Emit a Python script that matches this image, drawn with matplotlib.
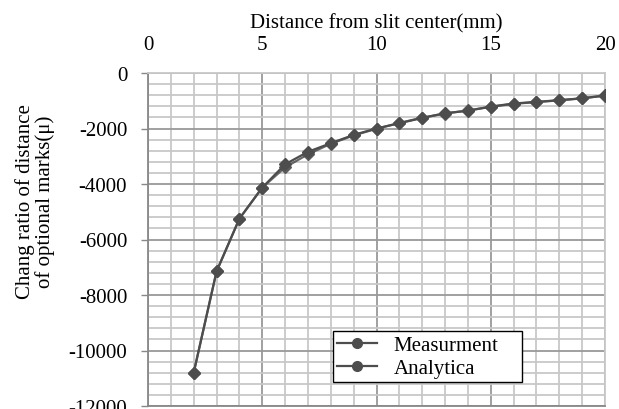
import matplotlib
matplotlib.use("Agg")
import matplotlib.pyplot as plt
from matplotlib.lines import Line2D
from matplotlib.ticker import MultipleLocator

plt.rcParams["font.family"] = ["Liberation Serif", "DejaVu Serif"]
plt.rcParams["axes.unicode_minus"] = False

# distance from slit center (mm)
dist = [2, 3, 4, 5, 6, 7, 8, 9, 10, 11, 12, 13, 14, 15, 16, 17, 18, 19, 20]
measurement = [-10800, -7150, -5250, -4130, -3290, -2840, -2530, -2230, -2000, -1810,
               -1620, -1450, -1360, -1210, -1100, -1040, -980, -910, -810]
analytical = [-10800, -7150, -5250, -4130, -3400, -2930, -2550, -2250, -2010, -1800,
              -1610, -1460, -1350, -1220, -1110, -1050, -985, -915, -815]
series_names = ["Measurment", "Analytica"]

fig = plt.figure(figsize=(6.19, 4.10), dpi=100)
ax = fig.add_axes([148 / 619, 1 - 407 / 410, 457 / 619, 333 / 410])

line_col = "#4d4d4d"
ax.plot(dist, measurement, color=line_col, lw=1.6, marker="D", ms=6.5, zorder=3)
ax.plot(dist, analytical, color=line_col, lw=1.6, marker="D", ms=6.5, alpha=0.85, zorder=3)

ax.set_xlim(0, 20)
ax.set_ylim(-12000, 0)

ax.xaxis.set_major_locator(MultipleLocator(5))
ax.xaxis.set_minor_locator(MultipleLocator(1))
ax.yaxis.set_major_locator(MultipleLocator(2000))
ax.yaxis.set_minor_locator(MultipleLocator(400))

ax.grid(which="minor", color="#c8c8c8", lw=1.3, zorder=0)
ax.grid(which="major", color="#999999", lw=1.3, zorder=1)
ax.set_axisbelow(True)

fs = 15
ax.xaxis.tick_top()
ax.xaxis.set_label_position("top")
ax.tick_params(axis="x", which="both", length=0, pad=14, labelsize=fs)
ax.tick_params(axis="y", which="major", length=5, width=1, color="#888888", pad=10, labelsize=fs)
ax.tick_params(axis="y", which="minor", length=0)

for side in ["top", "right"]:
    ax.spines[side].set_color("#c8c8c8")
    ax.spines[side].set_linewidth(1.3)
for side in ["left", "bottom"]:
    ax.spines[side].set_color("#888888")
    ax.spines[side].set_linewidth(1.3)

ax.set_xlabel("Distance from slit center(mm)", fontsize=fs, labelpad=5)
fig.text(35 / 619, 1 - 202 / 410, "Chang ratio of distance\nof optional marks(\u03bc)",
         rotation=90, ha="center", va="center", fontsize=fs, linespacing=1.0)

handles = [Line2D([], [], color=line_col, lw=1.6, marker="o", ms=7) for _ in series_names]
leg = ax.legend(handles, series_names, loc="lower left",
                bbox_to_anchor=((333 - 148) / 457, (407 - 383) / 333, (522 - 333) / 457, (383 - 328) / 333),
                mode="expand", fontsize=fs, frameon=True, fancybox=False, framealpha=1,
                edgecolor="black", borderpad=0.2, labelspacing=0.15, handlelength=1.9,
                handletextpad=0.8, borderaxespad=0)
leg.get_frame().set_linewidth(1.0)

fig.savefig("out.png", dpi=100)
